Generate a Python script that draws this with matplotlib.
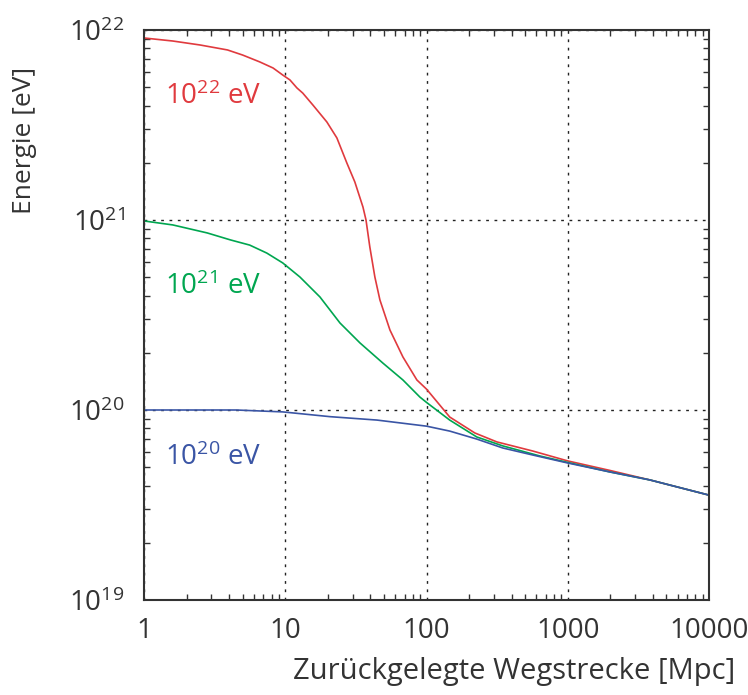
import matplotlib
matplotlib.use("Agg")
import matplotlib.pyplot as plt
import numpy as np
from matplotlib.ticker import LogLocator, NullFormatter

plt.rcParams['font.family'] = ['Open Sans', 'DejaVu Sans']
plt.rcParams['mathtext.fontset'] = 'custom'
plt.rcParams['mathtext.rm'] = 'Open Sans'
plt.rcParams['mathtext.it'] = 'Open Sans'

# distance [Mpc] and log10(energy [eV])
red_x = [1, 1.6, 2.5, 3.9, 5.0, 6.6, 8.2, 9.6, 10.8, 12.1, 13.3, 15.7, 19.7, 23.2,
         27.3, 31.1, 35.5, 37.3, 39.7, 43.1, 46.8, 55.1, 68.1, 85.5, 100, 146,
         220, 315, 566, 1000, 1986, 3811, 10000]
red_ly = [21.958, 21.942, 21.921, 21.895, 21.868, 21.832, 21.80, 21.763, 21.737,
          21.695, 21.668, 21.605, 21.516, 21.432, 21.30, 21.20, 21.068, 21.0,
          20.858, 20.70, 20.579, 20.421, 20.279, 20.158, 20.11, 19.963, 19.879,
          19.832, 19.784, 19.732, 19.682, 19.632, 19.552]

green_x = [1, 1.6, 2.8, 4.1, 5.6, 7.4, 9.6, 12.7, 17.6, 24.4, 33.8, 49.1, 68.1,
           89.8, 100, 146, 227, 347, 635, 1000, 1986, 3811, 10000]
green_ly = [20.995, 20.974, 20.932, 20.895, 20.868, 20.826, 20.774, 20.70, 20.595,
            20.458, 20.353, 20.247, 20.158, 20.068, 20.04, 19.947, 19.858, 19.811,
            19.758, 19.724, 19.674, 19.632, 19.552]

blue_x = [1, 4.5, 9.6, 20.7, 44.6, 100, 146, 227, 347, 566, 1000, 1986, 3811, 10000]
blue_ly = [20.0, 20.0, 19.99, 19.965, 19.947, 19.915, 19.889, 19.847, 19.8,
           19.763, 19.721, 19.674, 19.632, 19.552]

labels = ["22", "21", "20"]
label_ly = [21.65, 20.65, 19.75]
colors = ["#e03a3e", "#00a650", "#3a55a5"]
curves = [(red_x, red_ly), (green_x, green_ly), (blue_x, blue_ly)]

fig = plt.figure(figsize=(7.48, 6.95), dpi=100)
ax = fig.add_axes([144 / 748, 1 - 600 / 695, 565 / 748, 570 / 695])

for (xs, ly), c in zip(curves, colors):
    ax.plot(xs, 10 ** np.array(ly), color=c, lw=1.2)

for lab, ly, c in zip(labels, label_ly, colors):
    ax.text(1.4, 10 ** ly, r"$10^{%s}$ eV" % lab, color=c, fontsize=20,
            va="center", ha="left")

ax.set_xscale("log")
ax.set_yscale("log")
ax.set_xlim(1, 10000)
ax.set_ylim(1e19, 1e22)
ax.set_xticks([1, 10, 100, 1000, 10000])
ax.set_xticklabels(["1", "10", "100", "1000", "10000"])
ax.yaxis.set_major_locator(LogLocator(base=10, numticks=10))
ax.yaxis.set_minor_locator(LogLocator(base=10, subs=np.arange(2, 10), numticks=20))
ax.xaxis.set_minor_locator(LogLocator(base=10, subs=np.arange(2, 10), numticks=20))
ax.xaxis.set_minor_formatter(NullFormatter())
ax.yaxis.set_minor_formatter(NullFormatter())

ax.grid(True, which="major", color="#222222", linestyle=(0, (2, 4)), lw=1.0)
ax.tick_params(which="both", direction="in", top=True, right=True,
               colors="#333333", labelsize=20)
ax.tick_params(axis="x", pad=12)
ax.tick_params(axis="y", pad=14)
ax.tick_params(which="major", length=0)
ax.tick_params(which="minor", length=4, width=1)
for s in ax.spines.values():
    s.set_color("#333333")
    s.set_linewidth(1.5)

ax.set_xlabel("Zurückgelegte Wegstrecke [Mpc]", fontsize=21, color="#333333")
ax.xaxis.set_label_coords(0.655, -0.1)
ax.set_ylabel("Energie [eV]", fontsize=19, color="#333333")
ax.yaxis.set_label_coords(-0.19, 0.807)

fig.savefig("out.png", dpi=100)
